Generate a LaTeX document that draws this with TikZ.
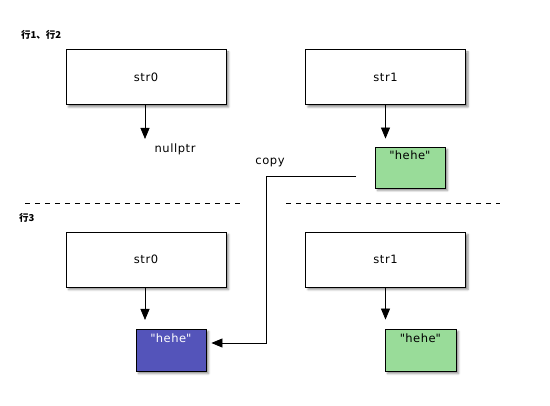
\documentclass[tikz,border=0pt]{standalone}
\usepackage{fontspec}
\setmainfont{DejaVu Sans}[LetterSpace=5]
\newfontfamily\cjk{Noto Sans CJK SC}
\usetikzlibrary{arrows.meta,shadows.blur}
\definecolor{boxgreen}{RGB}{153,220,153}
\definecolor{boxblue}{RGB}{84,84,186}
\font\qfont="DejaVu Sans" at 11.5pt
\newcommand\hehe{{\qfont\char34}hehe{\qfont\char34}}
\begin{document}
\begin{tikzpicture}[x=1pt,y=-1pt,
  every node/.style={font=\fontsize{11.5}{13}\selectfont},
  shade/.style={blur shadow={shadow xshift=2.5pt,shadow yshift=-2.5pt,shadow blur steps=4,shadow blur radius=2pt,shadow opacity=45}},
  bigbox/.style={draw=black,fill=white,line width=0.8pt,minimum width=160pt,minimum height=55pt,inner sep=0pt,shade},
  valbox/.style={draw=black,line width=0.8pt,minimum width=70pt,minimum height=41pt,inner sep=0pt,shade},
  link/.style={line width=0.8pt,-{Triangle[length=11pt,width=9pt]}},
  sep/.style={line width=0.8pt,dash pattern=on 5pt off 5pt},
  note/.style={font=\cjk\bfseries\fontsize{9.5}{11}\selectfont,anchor=west,inner sep=0pt}]
\useasboundingbox (0,0) rectangle (550,406);
% labels
\node[note] (l12) at (21,35) {行1、行2};
\node[note] (l3) at (19,218) {行3};
% upper row
\node[bigbox] (a0) at (146,77) {str0};
\node[bigbox] (a1) at (385.5,77) {str1};
\node[valbox,fill=boxgreen] (ga) at (410,167.5) {};
\node[anchor=north,inner sep=0pt] (gat) at (410,151) {\hehe};
\node (np) at (175,149) {nullptr};
\coordinate (npt) at (145,139);
\draw[link] (a0.south -| npt) -- (npt);
\draw[link,shorten >=8pt] (a1.south) -- (a1.south |- ga.north);
% separators
\coordinate (s1) at (25,203); \coordinate (s2) at (242,203);
\coordinate (s3) at (286,203); \coordinate (s4) at (500,203);
\draw[sep] (s1) -- (s2);
\draw[sep] (s3) -- (s4);
% lower row
\node[bigbox] (b0) at (146,259.5) {str0};
\node[bigbox] (b1) at (385.5,259.5) {str1};
\node[valbox,fill=boxblue,minimum height=42pt] (bb) at (171,350) {};
\node[anchor=north,inner sep=0pt,text=white] (bbt) at (171,334) {\hehe};
\node[valbox,fill=boxgreen,minimum height=42pt,minimum width=71pt] (gb) at (420.5,350) {};
\node[anchor=north,inner sep=0pt] (gbt) at (420.5,334) {\hehe};
\draw[link,shorten >=9pt] (b0.south -| 145,0) -- (145,329);
\draw[link,shorten >=9pt] (b1.south) -- (b1.south |- gb.north);
% copy connector
\node (cp) at (270,162) {copy};
\coordinate (c1) at (356,176);
\coordinate (c2) at (266,343);
\draw[link,shorten >=5pt] (c1) -| (c2) -- (bb.east |- c2);
\end{tikzpicture}
\end{document}
